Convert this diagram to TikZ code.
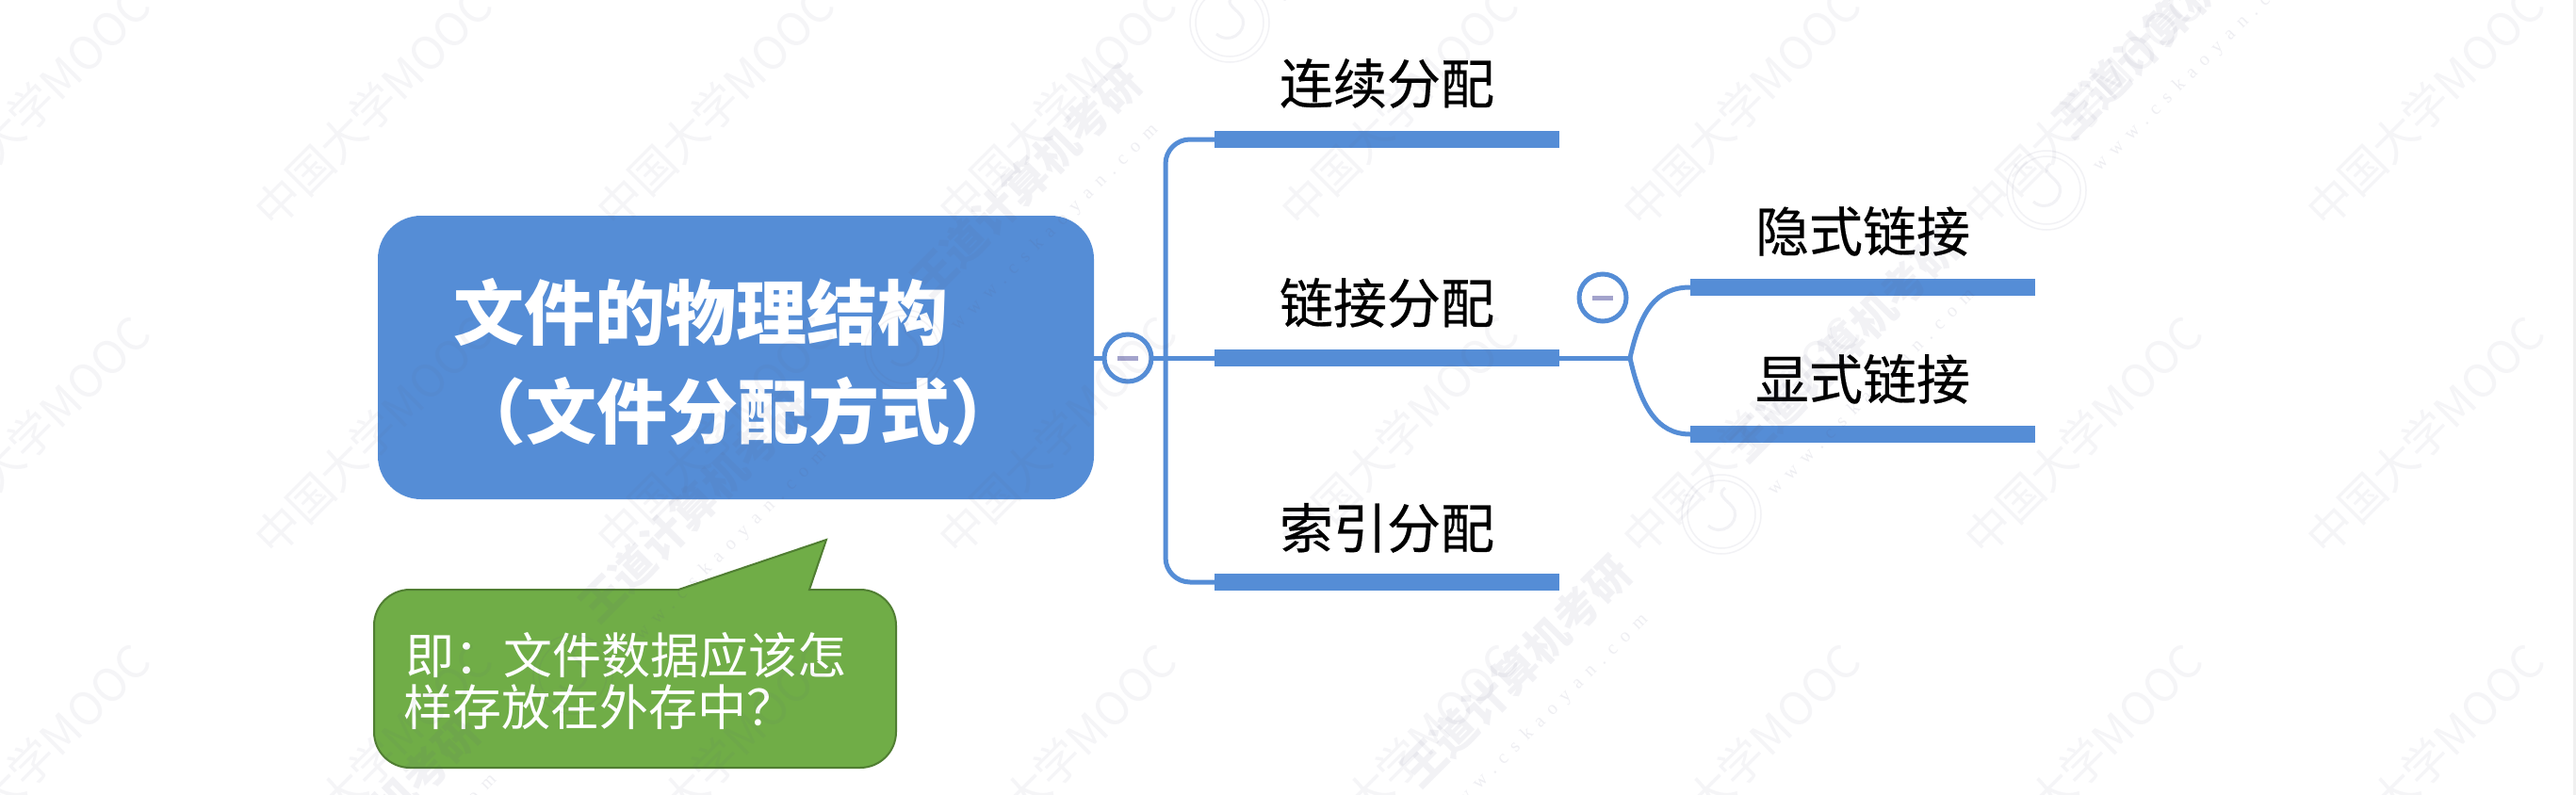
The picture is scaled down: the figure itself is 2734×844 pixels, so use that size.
\documentclass[tikz,border=0pt]{standalone}
\usepackage{fontspec}
\newfontfamily\cjk{Noto Sans CJK SC}
\newfontfamily\cjkmed[FakeBold=0.35]{Noto Sans CJK SC}
\newfontfamily\urlf[LetterSpace=47]{Liberation Serif}
\definecolor{mapblue}{HTML}{558DD6}
\definecolor{callgreen}{HTML}{70AD47}
\definecolor{callline}{HTML}{507E32}
\definecolor{minusc}{HTML}{A3A3CC}
\definecolor{wmc}{HTML}{5A5A80}
\tikzset{
  rootbox/.style={rectangle,fill=mapblue,rounded corners=46bp,minimum width=760bp,minimum height=301bp,inner sep=0pt},
  roottext/.style={anchor=base,text=white,font=\cjk\bfseries\fontsize{75bp}{80bp}\selectfont,inner sep=0pt},
  barbox/.style={rectangle,fill=mapblue,minimum width=366bp,minimum height=18bp,inner sep=0pt},
  barlabel/.style={anchor=base,text=black,font=\cjkmed\fontsize{57bp}{60bp}\selectfont,inner sep=0pt},
  conn/.style={draw=mapblue,line width=5bp},
  toggle/.style={circle,draw=mapblue,line width=5bp,fill=white,minimum size=50bp,inner sep=0pt},
  minusbar/.style={draw=minusc,line width=5bp},
  calltext/.style={anchor=base west,text=white,font=\cjk\fontsize{52bp}{56bp}\selectfont,inner sep=0pt},
  wmooc/.style={anchor=base west,rotate=45,text=wmc,opacity=.06,font=\cjk\fontsize{48bp}{50bp}\selectfont,inner sep=0pt},
  wwd/.style={anchor=base west,rotate=45,text=wmc,opacity=.08,font=\cjk\bfseries\fontsize{46bp}{50bp}\selectfont,inner sep=0pt},
  wurl/.style={anchor=base west,rotate=45,text=wmc,opacity=.10,font=\urlf\fontsize{20bp}{22bp}\selectfont,inner sep=0pt},
  wstamp/.style={draw=wmc,opacity=.08,line width=1.5bp},
}
\begin{document}
\begin{tikzpicture}[x=1bp,y=-1bp]
\useasboundingbox (0,0) rectangle (2734,844);
\fill[white] (0,0) rectangle (2734,844);
\fill[black!6] (2731,0) rectangle (2734,844);
\node[rootbox] (root) at (781,379.5) {};
\node[barbox] (bar1) at (1472,148) {};
\node[barbox] (bar2) at (1472,380) {};
\node[barbox] (bar3) at (1472,618) {};
\node[barbox] (bar4) at (1977,305) {};
\node[barbox] (bar5) at (1977,461) {};
\coordinate (trunk) at (1237,380);
\coordinate (fork) at (1730,380);
\draw[conn] (root.east |- bar2) -- (bar2.west);
\draw[conn,rounded corners=26bp] (bar1.west) -| (trunk) |- (bar3.west);
\draw[conn] (bar2.east) -- (fork);
\draw[conn] (fork) .. controls (1741,330) and (1758,305) .. (bar4.west);
\draw[conn] (fork) .. controls (1741,430) and (1758,461) .. (bar5.west);
\node[toggle] (tog1) at (1197,380) {};
\node[toggle] (tog2) at (1701,316) {};
\draw[minusbar] ([xshift=-11bp]tog1.center) -- ([xshift=11bp]tog1.center);
\draw[minusbar] ([xshift=-11bp]tog2.center) -- ([xshift=11bp]tog2.center);
\node[roottext] (rootA) at (743.5,360) {文件的物理结构};
\node[roottext] (rootB) at (783,465) {（文件分配方式）};
\node[barlabel] (lab1) at (1472,110) {连续分配};
\node[barlabel] (lab2) at (1472,343) {链接分配};
\node[barlabel] (lab3) at (1472,582) {索引分配};
\node[barlabel] (lab4) at (1977,267) {隐式链接};
\node[barlabel] (lab5) at (1977,424) {显式链接};
\draw[fill=callgreen,draw=callline,line width=2bp,line join=miter]
  (720,626) -- (877,573) -- (859,626) -- (913,626)
  .. controls (934,626) and (951,643) .. (951,664) -- (951,777)
  .. controls (951,798) and (934,815) .. (913,815) -- (435,815)
  .. controls (414,815) and (397,798) .. (397,777) -- (397,664)
  .. controls (397,643) and (414,626) .. (435,626) -- cycle;
\node[calltext] (callA) at (430,715) {即：文件数据应该怎};
\node[calltext] (callB) at (428,770) {样存放在外存中？};
\foreach \cx in {-72,291,654,1017,1380,1743,2106,2469}
  \foreach \cy in {245,593,941}
    \node[wmooc] (m\cx-\cy) at (\cx,\cy) {中国大学MOOC};
\foreach \sx/\sy/\n in {258/1061/a,608/716/b,960/371/c,1305/24/d,1480/891/e,1827/546/f,2172/202/g}{
  \draw[wstamp] (\sx,\sy) circle[radius=42];
  \draw[wstamp] (\sx,\sy) circle[radius=36];
  \draw[wstamp,line width=3bp] (\sx-14,\sy+12) .. controls (\sx,\sy+24) and (\sx+18,\sy+10) .. (\sx+14,\sy-4) .. controls (\sx+10,\sy-14) and (\sx-8,\sy-20) .. (\sx+4,\sy-28);
  \node[wwd] (w\n) at (\sx+27,\sy-52) {王道计算机考研};
  \node[wurl] (u\n) at (\sx+56,\sy-19) {www.cskaoyan.com};
}
\end{tikzpicture}
\end{document}
